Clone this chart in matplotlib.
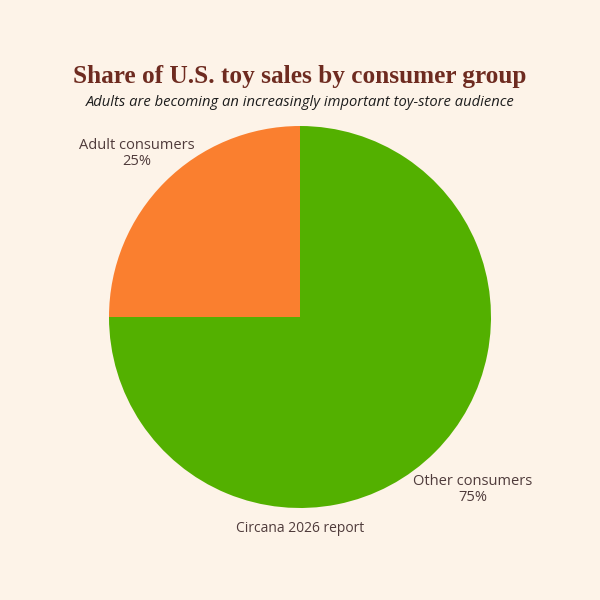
import numpy as np
import matplotlib
matplotlib.use("Agg")
import matplotlib.pyplot as plt

categories = ["Adult consumers", "Other consumers"]
shares = [25, 75]
colors = ["#FA7F2F", "#53B000"]
label_dist = [1.21, 1.28]

bg = "#FDF3E8"
text_col = "#4F3B3B"

fig = plt.figure(figsize=(6, 6), dpi=100, facecolor=bg)
ax = fig.add_axes([109 / 600, 1 - 508 / 600, 382 / 600, 382 / 600])
ax.set_facecolor(bg)

wedges, _ = ax.pie(shares, colors=colors, startangle=90, counterclock=True,
                   radius=1, wedgeprops=dict(linewidth=0))
ax.set_xlim(-1, 1)
ax.set_ylim(-1, 1)
ax.set_aspect("equal")

for w, name, val, d in zip(wedges, categories, shares, label_dist):
    ang = np.deg2rad((w.theta1 + w.theta2) / 2)
    ax.text(d * np.cos(ang), d * np.sin(ang), f"{name}\n{val}%",
            ha="center", va="center", fontsize=10.5, color=text_col,
            family="Open Sans", linespacing=1.1, clip_on=False)

fig.text(0.5, 1 - 76 / 600, "Share of U.S. toy sales by consumer group",
         ha="center", va="center", fontsize=18.2, fontweight="bold",
         family="Liberation Serif", color="#6E2B20")
fig.text(0.5, 1 - 103 / 600,
         "Adults are becoming an increasingly important toy-store audience",
         ha="center", va="center", fontsize=10.6, style="italic",
         family="Open Sans", color="#1E1E1E")
fig.text(0.5, 1 - 529 / 600, "Circana 2026 report", ha="center", va="center",
         fontsize=10, family="Open Sans", color=text_col)

fig.savefig("out.png", dpi=100, facecolor=bg)
